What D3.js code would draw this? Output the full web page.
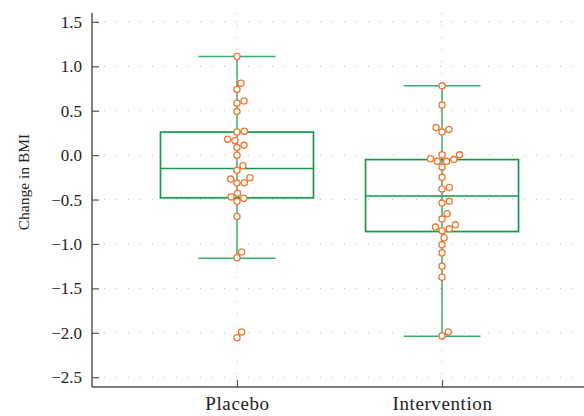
<!DOCTYPE html>
<html lang="en">
<head>
	<meta charset="UTF-8"/>
	<title>Change in BMI</title>
	<script src="https://d3js.org/d3.v7.min.js"></script>
	<style>
		body { margin: 0; background: #fff; }
		text { font-family: "Liberation Serif", "DejaVu Serif", serif; fill: #222; }
	</style>
</head>
<body>
<script>

	var w = 584;
	var h = 416;

	var groups = ["Placebo", "Intervention"];
	var yTicks = [1.5, 1.0, 0.5, 0.0, -0.5, -1.0, -1.5, -2.0, -2.5];

	// box stats
	var q1 = [-0.48, -0.86];
	var median = [-0.15, -0.46];
	var q3 = [0.26, -0.05];
	var whiskerLow = [-1.16, -2.04];
	var whiskerHigh = [1.11, 0.78];

	// individual changes
	var placebo = [1.11, 0.81, 0.74, 0.61, 0.585, 0.49, 0.27, 0.26, 0.18, 0.165,
		0.11, 0.085, 0.0, -0.12, -0.17, -0.255, -0.27, -0.31, -0.315, -0.43,
		-0.47, -0.485, -0.52, -0.69, -1.09, -1.155, -1.99, -2.055];
	var intervention = [0.78, 0.563, 0.31, 0.29, 0.26, 0.003, 0.003, -0.05, -0.04,
		-0.07, -0.07, -0.135, -0.25, -0.365, -0.38, -0.52, -0.54, -0.66, -0.72,
		-0.785, -0.81, -0.85, -0.83, -0.93, -1.01, -1.10, -1.25, -1.375, -1.99, -2.035];
	var points = [placebo, intervention];

	var left = 92, plotTop = 13, bottom = 387, right = 587;

	var xScale = d3.scalePoint()
					.domain(groups)
					.range([left, right])
					.padding(0.707);

	var yScale = d3.scaleLinear()
					.domain([-2.61, 1.6])
					.range([bottom, plotTop]);

	var svg = d3.select("body")
				.append("svg")
				.attr("width", w)
				.attr("height", h);

	//dotted grid
	svg.append("g")
		.selectAll("line")
		.data(yTicks)
		.enter()
		.append("line")
		.attr("x1", left)
		.attr("x2", w)
		.attr("y1", function(d){ return yScale(d); })
		.attr("y2", function(d){ return yScale(d); })
		.attr("stroke", "#bbb")
		.attr("stroke-width", 1)
		.attr("stroke-dasharray", "1,11");

	svg.append("g")
		.selectAll("line")
		.data(groups)
		.enter()
		.append("line")
		.attr("x1", function(d){ return xScale(d); })
		.attr("x2", function(d){ return xScale(d); })
		.attr("y1", plotTop)
		.attr("y2", bottom)
		.attr("stroke", "#bbb")
		.attr("stroke-width", 1)
		.attr("stroke-dasharray", "1,11");

	var boxW = 153, capW = 77;

	//boxes and whiskers
	var box = svg.append("g")
		.selectAll("g")
		.data(groups)
		.enter()
		.append("g");

	box.append("line")
		.attr("x1", function(d){ return xScale(d); })
		.attr("x2", function(d){ return xScale(d); })
		.attr("y1", function(d, i){ return yScale(whiskerLow[i]); })
		.attr("y2", function(d, i){ return yScale(whiskerHigh[i]); })
		.attr("stroke", "#3aad6c")
		.attr("stroke-width", 1.5);

	[whiskerLow, whiskerHigh].forEach(function(arr){
		box.append("line")
			.attr("x1", function(d){ return xScale(d) - capW / 2; })
			.attr("x2", function(d){ return xScale(d) + capW / 2; })
			.attr("y1", function(d, i){ return yScale(arr[i]); })
			.attr("y2", function(d, i){ return yScale(arr[i]); })
			.attr("stroke", "#3aad6c")
			.attr("stroke-width", 1.5);
	});

	box.append("rect")
		.attr("x", function(d){ return xScale(d) - boxW / 2; })
		.attr("width", boxW)
		.attr("y", function(d, i){ return yScale(q3[i]); })
		.attr("height", function(d, i){ return yScale(q1[i]) - yScale(q3[i]); })
		.attr("fill", "none")
		.attr("stroke", "#16994a")
		.attr("stroke-width", 1.7);

	box.append("line")
		.attr("x1", function(d){ return xScale(d) - boxW / 2; })
		.attr("x2", function(d){ return xScale(d) + boxW / 2; })
		.attr("y1", function(d, i){ return yScale(median[i]); })
		.attr("y2", function(d, i){ return yScale(median[i]); })
		.attr("stroke", "#16994a")
		.attr("stroke-width", 1.5);

	//swarm placement, like seaborn
	var diam = 7.4;
	function swarm(values, cx){
		var order = values.map(function(v){ return {v: v, y: yScale(v)}; })
						.sort(function(a, b){ return a.v - b.v; });
		var placed = [];
		order.forEach(function(p){
			var cands = [0];
			placed.forEach(function(q){
				var dy = Math.abs(q.y - p.y);
				if (dy < diam) {
					var dx = Math.sqrt(diam * diam - dy * dy);
					cands.push(q.dx + dx, q.dx - dx);
				}
			});
			cands.sort(function(a, b){ return Math.abs(a) - Math.abs(b); });
			for (var k = 0; k < cands.length; k++) {
				var ok = placed.every(function(q){
					var ddx = q.dx - cands[k], ddy = q.y - p.y;
					return ddx * ddx + ddy * ddy >= diam * diam - 0.01;
				});
				if (ok) { p.dx = cands[k]; break; }
			}
			placed.push(p);
		});
		return placed.map(function(p){ return {x: cx + p.dx, y: p.y}; });
	}

	groups.forEach(function(g, i){
		svg.append("g")
			.selectAll("circle")
			.data(swarm(points[i], xScale(g)))
			.enter()
			.append("circle")
			.attr("cx", function(d){ return d.x; })
			.attr("cy", function(d){ return d.y; })
			.attr("r", 3.1)
			.attr("fill", "#fff")
			.attr("stroke", "#f07a35")
			.attr("stroke-width", 1.3);
	});

	//axes
	var yAxis = d3.axisLeft(yScale)
					.tickValues(yTicks)
					.tickSize(-7)
					.tickPadding(10)
					.tickFormat(function(d){ return d3.format(".1f")(d).replace("-", "\u2212"); });

	var gy = svg.append("g")
		.attr("transform", "translate(" + left + ",0)")
		.call(yAxis);
	gy.select(".domain").attr("d", "M0," + plotTop + "V" + bottom).attr("stroke", "#555").attr("stroke-width", 1.5);
	gy.selectAll(".tick line").attr("stroke", "#555").attr("stroke-width", 1.2);
	gy.selectAll(".tick text").attr("font-size", 17).attr("font-family", "Liberation Serif, serif").attr("fill", "#222");

	var xAxis = d3.axisBottom(xScale)
					.tickSize(-7)
					.tickPadding(10);

	var gx = svg.append("g")
		.attr("transform", "translate(0," + bottom + ")")
		.call(xAxis);
	gx.select(".domain").attr("d", "M" + left + ",0H" + w).attr("stroke", "#555").attr("stroke-width", 1.5);
	gx.selectAll(".tick line").attr("stroke", "#555").attr("stroke-width", 1.2);
	gx.selectAll(".tick text").attr("font-size", 19).attr("letter-spacing", 0.6)
		.attr("font-family", "Liberation Serif, serif").attr("fill", "#222");

	svg.append("text")
		.attr("transform", "translate(29,182) rotate(-90)")
		.attr("text-anchor", "middle")
		.attr("font-size", 15.5)
		.text("Change in BMI");

</script>
</body>
</html>
